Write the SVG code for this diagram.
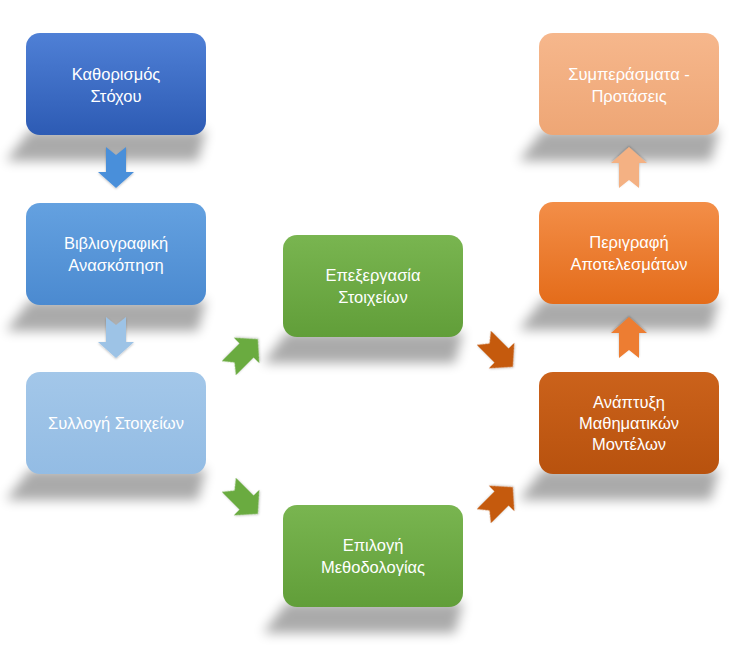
<svg xmlns="http://www.w3.org/2000/svg" width="747" height="647" viewBox="0 0 747 647">
<defs>
<filter id="sh" x="-30%" y="-100%" width="160%" height="300%"><feGaussianBlur stdDeviation="6"/></filter>
<filter id="ash" x="-30%" y="-30%" width="160%" height="160%"><feDropShadow dx="0" dy="1" stdDeviation="1.2" flood-color="#000" flood-opacity="0.25"/></filter>
<linearGradient id="g1" x1="0" y1="0" x2="0" y2="1"><stop offset="0" stop-color="#4f80d6"/><stop offset="1" stop-color="#2d5bb4"/></linearGradient>
<linearGradient id="g2" x1="0" y1="0" x2="0" y2="1"><stop offset="0" stop-color="#64a1e0"/><stop offset="1" stop-color="#4b8ad0"/></linearGradient>
<linearGradient id="g3" x1="0" y1="0" x2="0" y2="1"><stop offset="0" stop-color="#a3c7e9"/><stop offset="1" stop-color="#93bce4"/></linearGradient>
<linearGradient id="gg" x1="0" y1="0" x2="0" y2="1"><stop offset="0" stop-color="#79b550"/><stop offset="1" stop-color="#619e39"/></linearGradient>
<linearGradient id="go1" x1="0" y1="0" x2="0" y2="1"><stop offset="0" stop-color="#cb621b"/><stop offset="1" stop-color="#b8520e"/></linearGradient>
<linearGradient id="go2" x1="0" y1="0" x2="0" y2="1"><stop offset="0" stop-color="#f38e48"/><stop offset="1" stop-color="#e46c1a"/></linearGradient>
<linearGradient id="go3" x1="0" y1="0" x2="0" y2="1"><stop offset="0" stop-color="#f6b78c"/><stop offset="1" stop-color="#eea675"/></linearGradient>
<path id="arr" d="M-10,-20 L0,-12 L10,-20 L10,5 L18,5 L0,21 L-18,5 L-10,5 Z"/>
</defs>
<style>
.lbl{font-family:"Liberation Sans",Arial,sans-serif;font-size:16.5px;fill:#ffffff;text-anchor:middle}
.shadow{fill:#000;opacity:0.33;filter:url(#sh)}
</style>
<rect width="747" height="647" fill="#ffffff"/>

<g id="shadows">
<polygon class="shadow" points="30,130 206,130 198,161 6,161"/>
<polygon class="shadow" points="30,300 206,300 198,331 6,331"/>
<polygon class="shadow" points="30,469 206,469 198,500 6,500"/>
<polygon class="shadow" points="287,332 463,332 455,363 263,363"/>
<polygon class="shadow" points="287,602 463,602 455,633 263,633"/>
<polygon class="shadow" points="543,130 719,130 711,161 519,161"/>
<polygon class="shadow" points="543,299 719,299 711,330 519,330"/>
<polygon class="shadow" points="543,469 719,469 711,500 519,500"/>
</g>

<g id="connectors">
<use href="#arr" fill="#4a8fda" filter="url(#ash)" transform="translate(116,167)"/>
<use href="#arr" fill="#9dc3e6" filter="url(#ash)" transform="translate(116,337)"/>
<use href="#arr" fill="#6aab40" filter="url(#ash)" transform="translate(243,354) rotate(-135)"/>
<use href="#arr" fill="#6aab40" filter="url(#ash)" transform="translate(243,499) rotate(-45)"/>
<use href="#arr" fill="#c55a11" filter="url(#ash)" transform="translate(498,352) rotate(-45)"/>
<use href="#arr" fill="#c55a11" filter="url(#ash)" transform="translate(498,502) rotate(-135)"/>
<use href="#arr" fill="#ed7d31" filter="url(#ash)" transform="translate(629,338) rotate(180)"/>
<use href="#arr" fill="#f4b183" filter="url(#ash)" transform="translate(629,168) rotate(180)"/>
</g>

<g id="n1">
<rect x="26" y="33" width="180" height="102" rx="14" fill="url(#g1)"/>
<text class="lbl" x="116" y="80">Καθορισμός</text>
<text class="lbl" x="116" y="102">Στόχου</text>
</g>
<g id="n2">
<rect x="26" y="203" width="180" height="102" rx="14" fill="url(#g2)"/>
<text class="lbl" x="116" y="249">Βιβλιογραφική</text>
<text class="lbl" x="116" y="271">Ανασκόπηση</text>
</g>
<g id="n3">
<rect x="26" y="372" width="180" height="102" rx="14" fill="url(#g3)"/>
<text class="lbl" x="116" y="429">Συλλογή Στοιχείων</text>
</g>
<g id="n4">
<rect x="283" y="235" width="180" height="102" rx="14" fill="url(#gg)"/>
<text class="lbl" x="373" y="281">Επεξεργασία</text>
<text class="lbl" x="373" y="303">Στοιχείων</text>
</g>
<g id="n5">
<rect x="283" y="505" width="180" height="102" rx="14" fill="url(#gg)"/>
<text class="lbl" x="373" y="551">Επιλογή</text>
<text class="lbl" x="373" y="573">Μεθοδολογίας</text>
</g>
<g id="n6">
<rect x="539" y="372" width="180" height="102" rx="14" fill="url(#go1)"/>
<text class="lbl" x="629" y="408">Ανάπτυξη</text>
<text class="lbl" x="629" y="429">Μαθηματικών</text>
<text class="lbl" x="629" y="450">Μοντέλων</text>
</g>
<g id="n7">
<rect x="539" y="202" width="180" height="102" rx="14" fill="url(#go2)"/>
<text class="lbl" x="629" y="248">Περιγραφή</text>
<text class="lbl" x="629" y="270">Αποτελεσμάτων</text>
</g>
<g id="n8">
<rect x="539" y="33" width="180" height="102" rx="14" fill="url(#go3)"/>
<text class="lbl" x="629" y="80">Συμπεράσματα -</text>
<text class="lbl" x="629" y="102">Προτάσεις</text>
</g>
</svg>
